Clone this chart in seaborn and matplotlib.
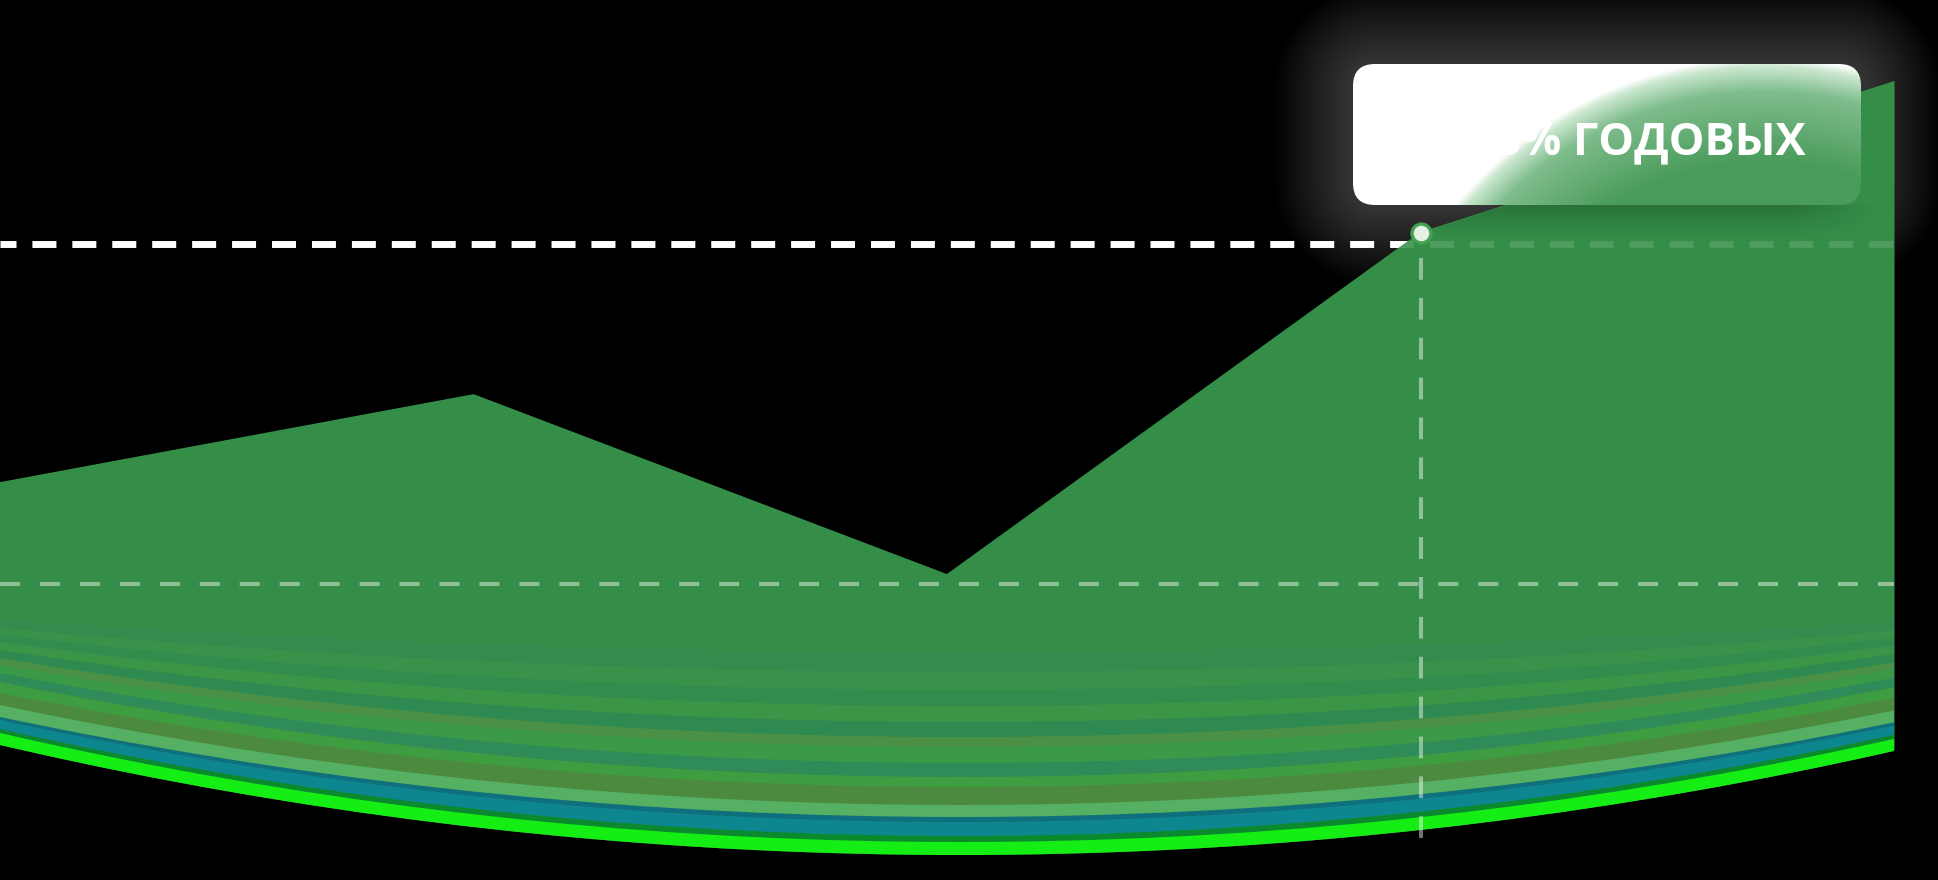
import numpy as np
import matplotlib
matplotlib.use("Agg")
import matplotlib.pyplot as plt
from matplotlib.patches import Ellipse, FancyBboxPatch
import seaborn as sns

# chart data (heights are measured from the bottom edge of the picture)
quarters = [0, 1, 2, 3, 4]
rate_line = [397, 485, 305, 647, 798]
marker_quarter = 3
marker_value = 647
upper_level = 636
lower_level = 296
label_text = "18% ГОДОВЫХ"

# coloured bands along the curved bottom, lowest first
band_colors = ["#14ee14", "#0a8a2c", "#0e8690", "#0f6f7c", "#55b063", "#4c8b3f",
               "#3e9d41", "#2f8b57", "#3b9a48", "#4a9046", "#2f8a51", "#3a9546",
               "#328c4e", "#38924a", "#338c4d", "#348e48"]
band_low = [25, 38, 44, 58, 63, 75, 93, 103, 117, 133, 143, 158, 174, 190, 208, 228]
band_edge = [135, 147, 151, 160, 163, 175, 187, 198, 207, 215, 222, 230, 238, 245, 252, 260]

MAIN_GREEN = "#348e48"
W, H, DPI = 1938, 880, 100
PX_PER_Q = 473.5        # pixels per quarter on the x axis
ARC_MID = 960           # pixel column of the lowest point of the bottom arc

sns.set_theme(style="dark", rc={"axes.facecolor": "none", "figure.facecolor": "black"})
plt.rcParams["font.family"] = ["Open Sans", "DejaVu Sans"]

fig = plt.figure(figsize=(W / DPI, H / DPI), dpi=DPI, facecolor="black")

# --- grey haze behind the label --------------------------------------------
axh = fig.add_axes([1250 / W, 1 - 300 / H, 688 / W, 300 / H], zorder=0)
axh.set_axis_off()
gx, gy = np.meshgrid(np.arange(1250, 1938), np.arange(0, 300))
cx, cy, hw, hh, rr = 1607, 134.5, 254, 70.5, 22
ddx = np.maximum(np.abs(gx - cx) - (hw - rr), 0)
ddy = np.maximum(np.abs(gy - cy) - (hh - rr), 0)
dist = np.hypot(ddx, ddy) - rr
haze = np.zeros(gx.shape + (4,))
haze[..., :3] = 0.5
haze[..., 3] = 0.42 * np.clip(1 - dist / 80, 0, 1) ** 0.9
axh.imshow(haze, extent=(1250, 1938, 300, 0), origin="upper", aspect="auto")
axh.set_xlim(1250, 1938)
axh.set_ylim(300, 0)

# --- main chart ------------------------------------------------------------
ax = fig.add_axes([0, 0, 1, 1], zorder=1)
ax.set_axis_off()
ax.set_xlim(0, W / PX_PER_Q)
ax.set_ylim(0, H)

# white dashed level behind the area
ax.plot([quarters[0], quarters[-1]], [upper_level] * 2, color="white", lw=5.0,
        ls=(1.15, (3.45, 2.3)), dash_capstyle="butt", zorder=1.5)

area = ax.fill_between(quarters, rate_line, 0, color=MAIN_GREEN, lw=0, zorder=2)
area_path = area.get_paths()[0]

for i, (col, low, edge) in enumerate(zip(band_colors, band_low, band_edge)):
    sag = edge - low
    r = (ARC_MID ** 2 + sag ** 2) / (2 * sag)
    ell = Ellipse((ARC_MID / PX_PER_Q, low + r), 2 * r / PX_PER_Q, 2 * r,
                  facecolor=col, edgecolor="none", zorder=2.1 + i * 0.01)
    ax.add_patch(ell)
    ell.set_clip_path(area_path, ax.transData)
    if i == 0:
        area.set_clip_path(ell)

sns.lineplot(x=quarters, y=rate_line, color=MAIN_GREEN, lw=1.2, ax=ax, zorder=2.5)

# soft shadow of the label on the area
sy = np.linspace(1, 0, 40)[:, None]
sx = np.clip(np.minimum(np.linspace(0, 6, 200), np.linspace(6, 0, 200)), 0, 1)[None, :]
shade = np.zeros((40, 200, 4))
shade[..., 3] = 0.2 * sy ** 1.5 * sx
im = ax.imshow(shade, extent=(1370 / PX_PER_Q, 1880 / PX_PER_Q, H - 245, H - 205),
               origin="upper", aspect="auto", zorder=2.6)
im.set_clip_path(area_path, ax.transData)

# dashed guides on top of the area
ax.plot([quarters[0], quarters[-1]], [upper_level] * 2, color="white", alpha=0.13, lw=5.0,
        ls=(1.15, (3.45, 2.3)), dash_capstyle="butt", zorder=4)
ax.plot([quarters[0], quarters[-1]], [lower_level] * 2, color="white", alpha=0.45, lw=2.9,
        ls=(0, (4.96, 4.96)), dash_capstyle="butt", zorder=4)
ax.plot([marker_quarter, marker_quarter], [marker_value - 25, band_low[0]], color="white",
        alpha=0.45, lw=2.9, ls=(0, (5.4, 4.5)), dash_capstyle="butt", zorder=4)

sns.scatterplot(x=[marker_quarter], y=[marker_value], s=185, color="#e4f1e4",
                edgecolor="#43a350", linewidth=2.4, ax=ax, zorder=6, legend=False)
ax.set_xlim(0, W / PX_PER_Q)
ax.set_ylim(0, H)

# --- label box -------------------------------------------------------------
axb = fig.add_axes([1353 / W, 1 - 205 / H, 508 / W, 141 / H], zorder=3)
axb.set_axis_off()
axb.set_xlim(0, 508)
axb.set_ylim(0, 141)
bu, bv = np.meshgrid(np.arange(0, 508), np.arange(0, 141))
g = 393 - np.hypot(1353 + bu - 1765, 205 - bv - 460)
stops = [-8, 0, 25, 95]
reds = [1.0, 0.80, 0.50, 0.29]
greens = [1.0, 0.91, 0.74, 0.61]
blues = [1.0, 0.82, 0.55, 0.36]
img = np.dstack([np.interp(g, stops, reds), np.interp(g, stops, greens),
                 np.interp(g, stops, blues)])
box = FancyBboxPatch((0, 0), 508, 141, boxstyle="round,pad=0,rounding_size=22",
                     facecolor="none", edgecolor="none")
axb.add_patch(box)
bimg = axb.imshow(img, extent=(0, 508, 0, 141), origin="lower", aspect="auto")
bimg.set_clip_path(box)
axb.text(453, 50, label_text, color="white", fontsize=32.5, fontweight="bold",
         ha="right", va="baseline")

fig.savefig("out.png", dpi=DPI, facecolor="black")
